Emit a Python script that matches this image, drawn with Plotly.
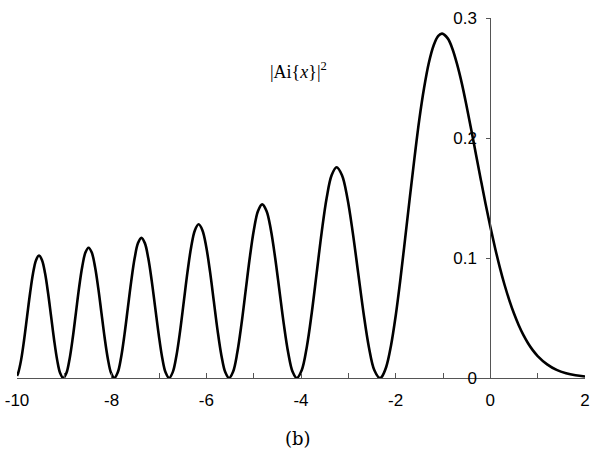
import plotly.graph_objects as go

# |Ai(x)|^2 samples over [-10, 2]: oscillating lobes on the left, decaying tail on the right
x_vals = [
    -10.0, -9.977, -9.914, -9.851, -9.7875, -9.724, -9.661, -9.598, -9.535,
    -9.471, -9.407, -9.343, -9.279, -9.215, -9.151, -9.087, -9.023,
    -8.956, -8.889, -8.822, -8.7555, -8.689, -8.622, -8.555, -8.488,
    -8.420, -8.352, -8.284, -8.216, -8.148, -8.080, -8.012, -7.944,
    -7.8725, -7.801, -7.7295, -7.658, -7.5865, -7.515, -7.4435, -7.372,
    -7.299, -7.226, -7.153, -7.0795, -7.006, -6.933, -6.860, -6.787,
    -6.709, -6.631, -6.553, -6.475, -6.397, -6.319, -6.241, -6.163,
    -6.083, -6.0025, -5.922, -5.842, -5.762, -5.6815, -5.601, -5.521,
    -5.433, -5.346, -5.258, -5.1705, -5.083, -4.995, -4.908, -4.820,
    -4.7285, -4.637, -4.5455, -4.454, -4.3625, -4.271, -4.1795, -4.088,
    -3.983, -3.878, -3.773, -3.668, -3.563, -3.458, -3.353, -3.248,
    -3.134, -3.0205, -2.907, -2.793, -2.679, -2.5655, -2.452, -2.338,
    -2.3, -2.2, -2.1, -2.0, -1.9, -1.8, -1.7, -1.6, -1.5, -1.4, -1.3, -1.2, -1.1, -1.019,
    -0.9, -0.8, -0.7, -0.6, -0.5, -0.4, -0.3, -0.2, -0.1,
    0.0, 0.1, 0.2, 0.3, 0.4, 0.5, 0.6, 0.7, 0.8, 0.9,
    1.0, 1.2, 1.4, 1.6, 1.8, 2.0,
]
y_vals = [
    0.0018, 0.0039, 0.0149, 0.0315, 0.0511, 0.0706, 0.0872, 0.0982, 0.1021,
    0.0982, 0.0872, 0.0706, 0.0511, 0.0315, 0.0149, 0.0039, 0.0,
    0.0041, 0.0159, 0.0335, 0.0543, 0.0751, 0.0927, 0.1045, 0.1086,
    0.1045, 0.0927, 0.0751, 0.0543, 0.0335, 0.0159, 0.0041, 0.0,
    0.0045, 0.0171, 0.0361, 0.0584, 0.0807, 0.0997, 0.1124, 0.1168,
    0.1124, 0.0997, 0.0807, 0.0584, 0.0361, 0.0171, 0.0045, 0.0,
    0.0049, 0.0188, 0.0395, 0.0641, 0.0886, 0.1094, 0.1232, 0.1281,
    0.1232, 0.1094, 0.0886, 0.0641, 0.0395, 0.0188, 0.0049, 0.0,
    0.0055, 0.0212, 0.0447, 0.0724, 0.1000, 0.1236, 0.1392, 0.1447,
    0.1392, 0.1236, 0.1000, 0.0724, 0.0447, 0.0212, 0.0055, 0.0,
    0.0067, 0.0257, 0.0542, 0.0878, 0.1214, 0.1500, 0.1689, 0.1756,
    0.1689, 0.1500, 0.1214, 0.0878, 0.0542, 0.0257, 0.0067, 0.0,
    0.0007, 0.0092, 0.0267, 0.0517, 0.0823, 0.1161, 0.1508, 0.1842, 0.2155, 0.2416, 0.2625, 0.2769, 0.2851, 0.2870,
    0.2830, 0.2742, 0.2611, 0.2451, 0.2263, 0.2063, 0.1857, 0.1651, 0.1450,
    0.1260, 0.1084, 0.0922, 0.0777, 0.0649, 0.0537, 0.0440, 0.0357, 0.0288, 0.0230,
    0.0183, 0.01134, 0.00672, 0.00392, 0.00222, 0.00122,
]

x_ticks = [-10, -8, -6, -4, -2, 0, 2]
y_ticks = [0, 0.1, 0.2, 0.3]
y_tick_text = ["0", "0.1", "0.2", "0.3"]

axis_color = "#555555"
tick_font = dict(family="Liberation Sans", size=17, color="#000000")

fig = go.Figure()
fig.add_trace(go.Scatter(
    x=x_vals, y=y_vals, mode="lines",
    line=dict(color="#000000", width=2.6, shape="spline", smoothing=1.0),
    showlegend=False, hoverinfo="skip",
))

x_min, x_max = -10, 2
fig.update_layout(
    width=592, height=451,
    margin=dict(l=17, r=7, t=18, b=73),
    paper_bgcolor="white", plot_bgcolor="white",
    xaxis=dict(
        range=[x_min, x_max], tickvals=x_ticks, ticktext=[str(v) for v in x_ticks],
        showgrid=False, zeroline=False, showline=True, linecolor=axis_color, linewidth=1,
        ticks="inside", ticklen=5, tickcolor=axis_color, tickfont=tick_font,
        minor=dict(dtick=1, tick0=0, ticks="inside", ticklen=5, tickcolor=axis_color, showgrid=False),
        anchor="y", automargin=False, ticklabelstandoff=7,
    ),
    yaxis=dict(
        range=[0, 0.3], tickvals=y_ticks, ticktext=y_tick_text,
        showgrid=False, zeroline=False, showline=True, linecolor=axis_color, linewidth=1,
        ticks="outside", ticklen=4, tickcolor=axis_color, tickfont=tick_font,
        anchor="free", position=(0 - x_min) / (x_max - x_min), side="left",
        automargin=False, ticklabelstandoff=6,
    ),
    annotations=[
        dict(text="|Ai{<i>x</i>}|<sup>2</sup>", x=-4.06, y=0.256, xref="x", yref="y",
             showarrow=False, font=dict(family="Liberation Serif", size=18, color="#000000")),
        dict(text="(b)", x=-4.06, y=-0.167, xref="x", yref="paper", yanchor="middle",
             showarrow=False, font=dict(family="DejaVu Serif", size=18, color="#000000")),
    ],
)

fig.write_html("out.html")
